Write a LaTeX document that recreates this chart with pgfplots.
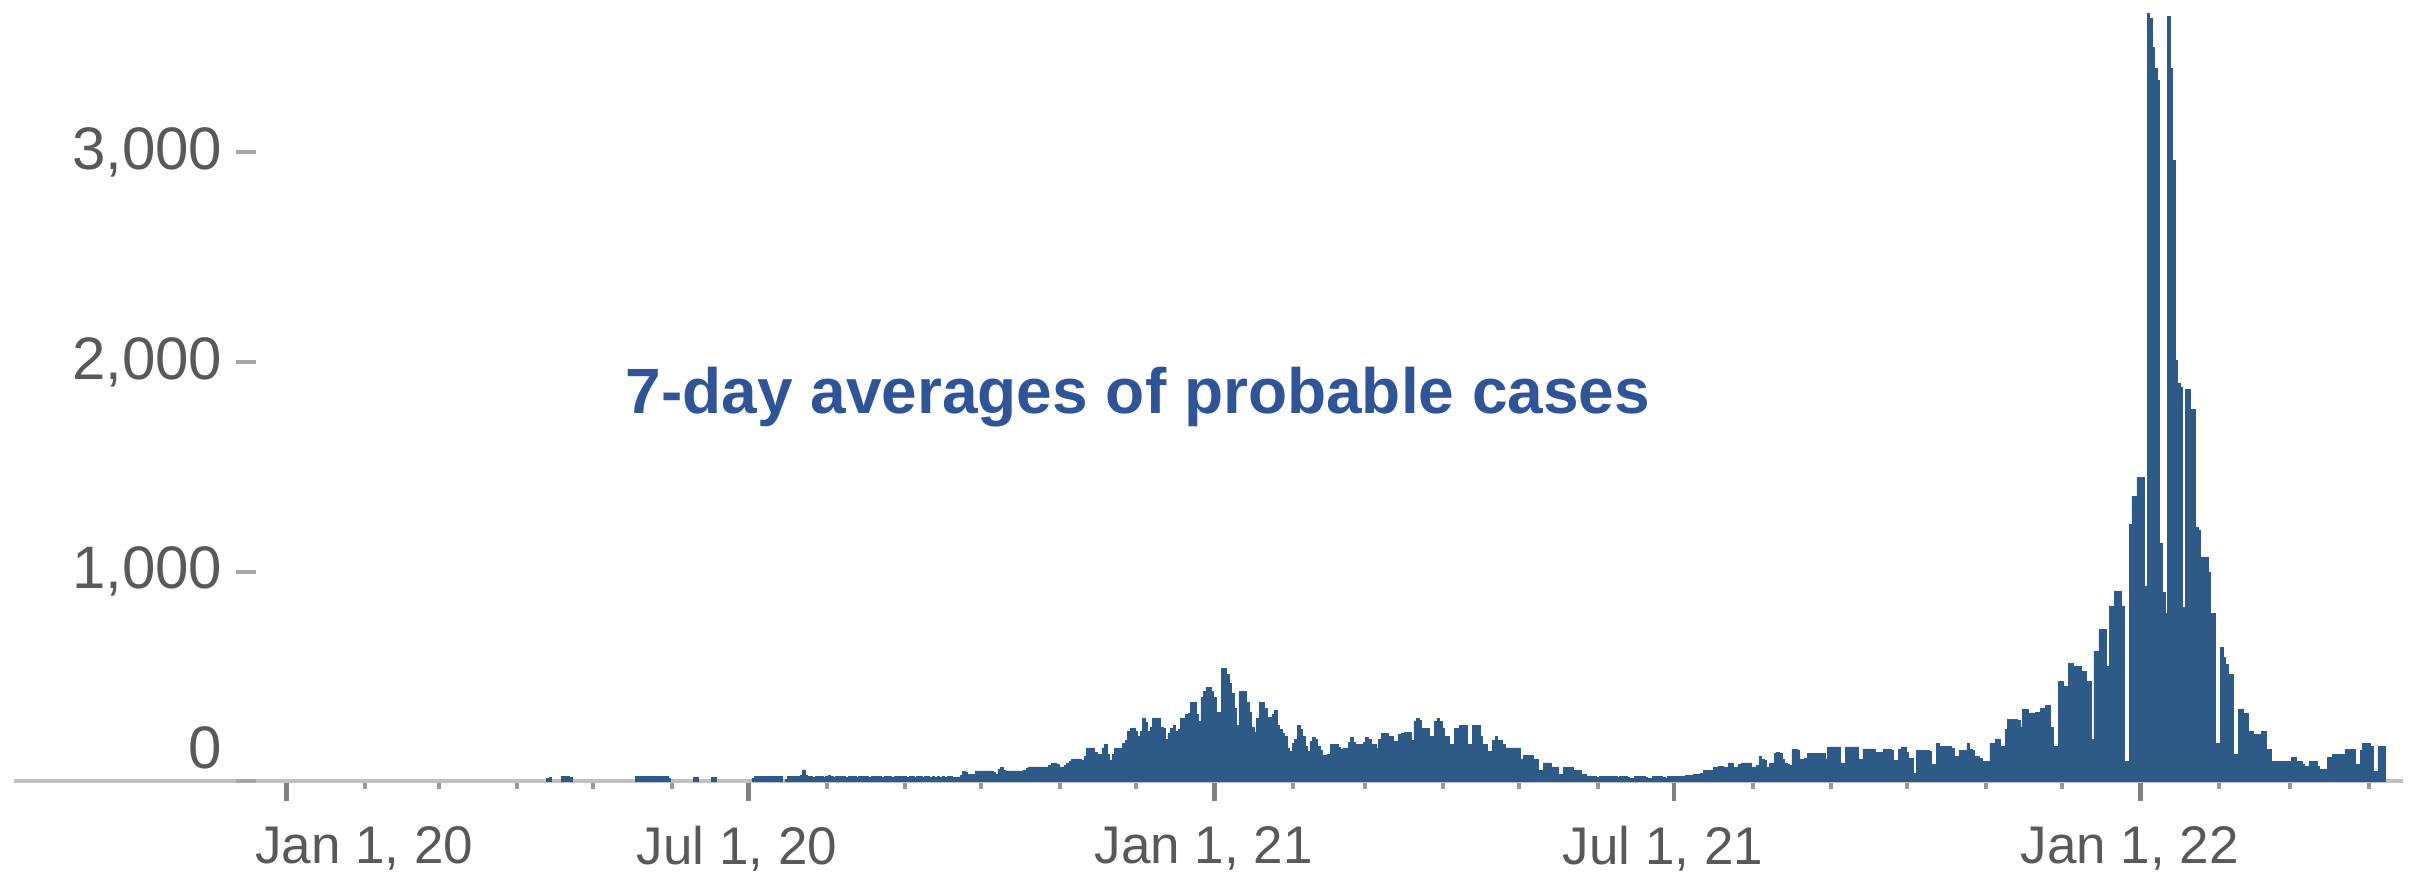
\documentclass[border=0pt]{standalone}
\usepackage{pgfplots}
\pgfplotsset{compat=1.18}
\usepackage{fontspec}
\setmainfont{Liberation Sans}
\definecolor{barblue}{RGB}{46,90,136}
\definecolor{titleblue}{RGB}{47,85,151}
\definecolor{labelgray}{RGB}{89,89,89}
\definecolor{axisgray}{RGB}{192,192,192}
\definecolor{tickgray}{RGB}{128,128,128}
\definecolor{ytickgray}{RGB}{166,166,166}
\begin{document}
\begin{tikzpicture}
\begin{axis}[
  name=ax,
  scale only axis,
  width=597.25pt, height=195.375pt,
  xmin=-107.4, xmax=834.4,
  ymin=0, ymax=3727,
  axis x line*=bottom,
  axis y line*=left,
  x axis line style={draw=axisgray, line width=1pt, -},
  y axis line style={draw=none},
  tick align=outside,
  xtick={0,182,366,547,731},
  xticklabels={{\hspace*{44.5pt}Jan 1, 20},{Jul 1, 20},{Jan 1, 21},{Jul 1, 21},{Jan 1, 22}},
  minor xtick={31,60,91,121,152,213,244,274,305,335,397,425,456,486,517,578,609,639,670,700,762,790,821},
  major tick length=5pt,
  minor tick length=2pt,
  major x tick style={draw=tickgray, line width=1.2pt},
  minor x tick style={draw=tickgray!80, line width=1pt},
  x tick label style={font=\fontsize{13.25}{15}\selectfont, text=labelgray, inner sep=0pt, anchor=north, yshift=-6pt, xshift=-2.75pt},
  ytick={1000,2000,3000},
  yticklabels={{1,000},{2,000},{3,000}},
  major y tick style={draw=ytickgray, line width=1pt, xshift=60.5pt},
  y tick label style={font=\fontsize{15}{17}\selectfont, text=labelgray, inner sep=0pt, anchor=east, xshift=57.25pt},
  extra y ticks={0}, extra y tick labels={0},
  extra y tick style={tick style={draw=none}, y tick label style={yshift=8.4pt}},
  clip=false,
]
\addplot[ybar, bar width=1, bar shift=0pt, fill=barblue, draw=barblue, line width=0.15pt] coordinates {
(103,15)(104,20)(109,25)(110,25)(111,25)(112,20)
(138,25)(139,25)(140,25)(141,25)(142,25)(143,25)(144,25)(145,25)(146,25)(147,25)(148,25)(149,25)(150,25)(151,15)
(161,20)(162,20)(168,20)(169,20)
(184,15)(185,25)(186,25)(187,25)(188,25)(189,25)(190,25)(191,25)(192,25)(193,25)(194,25)(195,25)(197,10)(198,25)(199,25)(200,25)(201,25)(202,25)(203,30)(204,55)(205,30)
(206,25)(207,25)(208,20)(209,25)(210,25)(211,25)(212,20)(213,25)(214,30)(215,25)(216,20)(217,25)(218,25)(219,25)(220,25)(221,20)(222,25)(223,25)(224,25)(225,20)(226,25)(227,25)(228,25)(229,25)(230,20)(231,25)(232,25)(233,25)(234,25)(235,20)(236,25)(237,25)(238,25)(239,20)(240,25)(241,25)
(242,25)(243,25)(244,25)(245,20)(246,25)(247,25)(248,20)(249,25)(250,25)(251,20)(252,25)(253,25)(254,20)(255,25)(256,20)(257,25)(258,20)(259,25)(260,20)(261,25)(262,25)(263,20)(264,20)(265,20)(266,30)(267,50)(268,45)(269,32)(270,32)(271,32)
(272,51)(273,51)(274,51)(275,51)(276,51)(277,51)(278,51)(279,45)(280,35)(281,60)(282,70)(283,55)(284,51)(285,51)(286,51)(287,51)(288,51)(289,51)(290,51)(291,55)(292,65)(293,70)(294,70)(295,70)(296,70)(297,70)(298,70)(299,70)(300,70)(301,75)
(302,89)(303,89)(304,80)(305,70)(306,70)(307,75)(308,89)(309,95)(310,108)(311,108)(312,108)(313,108)(314,100)(315,120)(316,160)(317,160)(318,160)(319,140)(320,128)(321,130)(322,160)(323,175)(324,130)(325,100)(326,130)(327,160)(328,160)(329,160)(330,180)(331,195)
(332,240)(333,252)(334,252)(335,240)(336,215)(337,240)(338,303)(339,280)(340,240)(341,260)(342,303)(343,303)(344,303)(345,260)(346,252)(347,200)(348,230)(349,252)(350,268)(351,240)(352,250)(353,303)(354,303)(355,320)(356,327)(357,378)(358,378)(359,320)(360,287)(361,400)
(362,430)(363,450)(364,450)(365,430)(366,400)(367,330)(368,330)(369,539)(370,539)(371,510)(372,470)(373,420)(374,350)(375,268)(376,430)(377,430)(378,430)(379,380)(380,330)(381,260)(382,235)(383,300)(384,378)(385,378)(386,350)(387,306)(388,306)(389,320)(390,340)(391,270)
(392,250)(393,230)(394,215)(395,160)(396,144)(397,180)(398,200)(399,266)(400,250)(401,215)(402,170)(403,144)(404,190)(405,212)(406,200)(407,170)(408,150)(409,124)(410,124)(411,130)(412,175)(413,175)(414,175)(415,165)(416,155)(417,160)(418,160)(419,185)(420,212)(421,185)
(422,175)(423,175)(424,175)(425,185)(426,212)(427,200)(428,175)(429,175)(430,160)(431,200)(432,231)(433,231)(434,231)(435,215)(436,215)(437,190)(438,190)(439,225)(440,231)(441,234)(442,234)(443,234)(444,196)(445,287)(446,300)(447,290)(448,252)(449,252)(450,252)(451,215)
(452,215)(453,287)(454,300)(455,287)(456,252)(457,215)(458,215)(459,175)(460,175)(461,252)(462,252)(463,268)(464,268)(465,268)(466,175)(467,175)(468,268)(469,268)(470,268)(471,215)(472,175)(473,175)(474,144)(475,144)(476,196)(477,215)(478,196)(479,196)(480,175)(481,160)
(482,160)(483,160)(484,160)(485,160)(486,160)(487,108)(488,124)(489,124)(490,124)(491,124)(492,105)(493,105)(494,53)(495,53)(496,89)(497,89)(498,89)(499,70)(500,70)(501,70)(502,32)(503,32)(504,70)(505,70)(506,70)(507,70)(508,53)(509,53)(510,53)(511,32)(512,32)
(513,25)(514,25)(515,25)(516,25)(517,20)(518,25)(519,25)(520,25)(521,25)(522,25)(523,25)(524,25)(525,20)(526,25)(527,25)(528,25)(529,20)(530,15)(531,15)(532,25)(533,25)(534,25)(535,25)(536,20)(537,15)(538,15)(539,25)(540,25)(541,25)(542,25)(543,20)(544,15)(545,25)(546,25)(547,25)(548,25)(549,25)(550,25)(551,25)(552,30)(553,30)(554,30)(555,32)(556,32)(557,35)(558,40)
(559,53)(560,53)(561,53)(562,53)(563,70)(564,70)(565,72)(566,72)(567,70)(568,70)(569,89)(570,89)(571,70)(572,70)(573,80)(574,89)(575,89)(576,89)(577,89)(578,70)(579,70)(580,75)(581,120)(582,105)(583,100)(584,70)(585,89)(586,89)(587,135)(588,140)(589,135)(590,108)
(591,89)(592,80)(593,75)(594,155)(595,155)(596,150)(597,108)(598,108)(599,110)(600,135)(601,135)(602,135)(603,135)(604,135)(605,135)(606,135)(607,108)(608,165)(609,165)(610,165)(611,165)(612,165)(613,89)(614,89)(615,165)(616,165)(617,165)(618,165)(619,165)(620,108)(621,108)
(622,155)(623,155)(624,155)(625,155)(626,155)(627,140)(628,140)(629,140)(630,155)(631,155)(632,155)(633,150)(634,100)(635,100)(636,155)(637,165)(638,165)(639,140)(640,112)(641,112)(642,40)(643,150)(644,150)(645,150)(646,150)(647,150)(648,145)(649,80)(650,80)(651,180)
(652,167)(653,167)(654,167)(655,167)(656,167)(657,160)(658,120)(659,120)(660,150)(661,150)(662,150)(663,180)(664,152)(665,150)(666,120)(667,120)(668,110)(669,96)(670,96)(671,96)(672,183)(673,183)(674,203)(675,203)(676,167)(677,167)(678,247)(679,295)(680,295)(681,295)
(682,295)(683,290)(684,260)(685,343)(686,343)(687,327)(688,327)(689,327)(690,330)(691,330)(692,351)(693,351)(694,364)(695,364)(696,260)(697,167)(698,167)(699,478)(700,478)(701,455)(702,455)(703,566)(704,566)(705,550)(706,550)(707,550)(708,526)(709,526)(710,478)(711,478)
(712,199)(713,622)(714,622)(715,726)(716,726)(717,726)(718,550)(719,837)(720,837)(721,909)(722,909)(723,909)(724,837)(725,96)(726,96)(727,1227)(728,1360)(729,1360)(730,1449)(731,1449)(732,1449)(733,933)
(734,3665)(735,3640)(736,3500)(737,3400)(738,3344)(739,1134)(740,900)(741,800)(742,3650)(743,3400)(744,2963)(745,2009)(746,1900)(747,1880)(748,832)(749,1868)(750,1868)(751,1774)(752,1774)(753,1214)(754,1200)(755,1071)(756,1071)(757,1071)(758,1000)(759,800)(760,800)(761,183)(762,183)
(763,638)(764,590)(765,560)(766,510)(767,510)(768,132)(769,132)(770,346)(771,346)(772,327)(773,327)(774,239)(775,239)(776,223)(777,223)(778,223)(779,239)(780,239)(781,152)(782,152)(783,96)(784,96)(785,96)(786,96)(787,96)(788,96)(789,96)(790,96)(791,116)(792,116)
(793,96)(794,96)(795,80)(796,72)(797,72)(798,96)(799,96)(800,96)(801,72)(802,59)(803,59)(804,59)(805,116)(806,116)(807,128)(808,128)(809,128)(810,128)(811,128)(812,152)(813,152)(814,152)(815,152)(816,80)(817,80)(818,150)(819,183)(820,183)(821,183)(822,167)(823,48)(824,48)(825,167)(826,167)(827,167)
};
\node[anchor=base west, inner sep=0pt, text=titleblue, font=\fontsize{16}{19}\selectfont\bfseries] at (axis cs:133.45,1757) {7-day averages of probable cases};
\end{axis}
\path (ax.south west) ++(-3.5pt,-23.375pt) rectangle ++(604.25pt,218.75pt);
\end{tikzpicture}
\end{document}
